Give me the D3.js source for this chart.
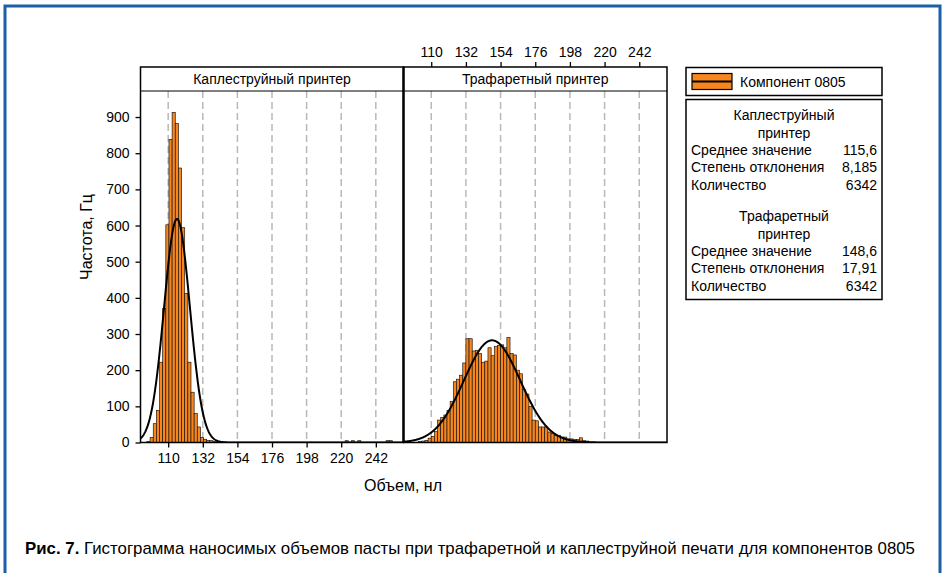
<!DOCTYPE html>
<html><head><meta charset="utf-8">
<script src="https://cdn.jsdelivr.net/npm/d3@7"></script>
<style>
body{margin:0;background:#fff}
svg{display:block}
text{font-family:"Liberation Sans",Arial,sans-serif;fill:#000}
</style>
</head><body>
<svg id="c" width="944" height="573"></svg>
<script>
// ---------- data ----------
const panels = ["Каплеструйный принтер", "Трафаретный принтер"];
const xTicks = [110, 132, 154, 176, 198, 220, 242];
const yTicks = [0, 100, 200, 300, 400, 500, 600, 700, 800, 900];
const binWidth = 2;
const inkjetBinStarts = [96.5, 98.5, 100.5, 102.5, 104.5, 106.5, 108.5, 110.5, 112.5, 114.5, 116.5, 118.5, 120.5, 122.5, 124.5, 126.5, 128.5, 130.5, 132.5, 134.5, 136.5, 138.5, 140.5, 222.5, 226.5, 230.5, 248.5, 250.5];
const inkjetCounts    = [3, 14, 52, 89, 222, 371, 602, 838, 913, 882, 759, 594, 412, 222, 139, 80, 43, 14, 9, 6, 5, 3, 2, 5, 5, 5, 5, 5];
const stencilBinStarts = [102, 104, 106, 108, 110, 112, 114, 116, 118, 120, 122, 124, 126, 128, 130, 132, 134, 136, 138, 140, 142, 144, 146, 148, 150, 152, 154, 156, 158, 160, 162, 164, 166, 168, 170, 172, 174, 176, 178, 180, 182, 184, 186, 188, 190, 192, 194, 196, 198, 200, 202, 204, 206, 208];
const stencilCounts    = [3, 4, 6, 12, 17, 30, 62, 69, 76, 89, 114, 168, 175, 186, 220, 287, 287, 253, 255, 246, 222, 225, 262, 240, 265, 268, 270, 262, 290, 246, 242, 200, 190, 146, 134, 100, 62, 60, 43, 43, 43, 29, 25, 20, 20, 15, 15, 10, 10, 8, 8, 13, 5, 4];
const means = [115.6, 148.6];
const sds = [8.185, 17.91];
const counts = [6342, 6342];
const meanLabels = ["115,6", "148,6"];
const sdLabels = ["8,185", "17,91"];
const nLabels = ["6342", "6342"];
const statTitles = [["Каплеструйный", "принтер"], ["Трафаретный", "принтер"]];
const statNames = ["Среднее значение", "Степень отклонения", "Количество"];
const legendLabel = "Компонент 0805";
const xLabel = "Объем, нл";
const yLabel = "Частота, Гц";
const captionBold = "Рис. 7.";
const captionText = " Гистограмма наносимых объемов пасты при трафаретной и каплеструйной печати для компонентов 0805";

// ---------- layout ----------
const svg = d3.select("#c");
const ORANGE = "#f7861f";
const stripTop = 67, plotTop = 91, plotBottom = 442.5;
const panelX = [[140.5, 403.5], [403.5, 667]];
const xDomain = [92.4, 259.6];
const y = d3.scaleLinear().domain([0, 972]).range([plotBottom, plotTop]);

// outer blue frame
svg.append("path").attr("d", "M5,573 L5,6 L940,6 L940,573")
  .attr("fill", "none").attr("stroke", "#1d5ea8").attr("stroke-width", 3);

const binsData = [
  inkjetBinStarts.map((s, i) => ({x0: s, x1: s + binWidth, n: inkjetCounts[i]})),
  stencilBinStarts.map((s, i) => ({x0: s, x1: s + binWidth, n: stencilCounts[i]}))
];

const defs = svg.append("defs");

panels.forEach((name, p) => {
  const [x0, x1] = panelX[p];
  const x = d3.scaleLinear().domain(xDomain).range([x0, x1]);
  const g = svg.append("g");

  defs.append("clipPath").attr("id", "clip" + p)
    .append("rect").attr("x", x0).attr("y", plotTop).attr("width", x1 - x0).attr("height", plotBottom - plotTop);

  // dashed gridlines
  g.selectAll(".grid").data(xTicks).join("line")
    .attr("x1", d => x(d)).attr("x2", d => x(d))
    .attr("y1", plotTop).attr("y2", plotBottom)
    .attr("stroke", "#b9b9b9").attr("stroke-width", 1.5).attr("stroke-dasharray", "7,4");

  // bars
  g.append("g").selectAll("rect").data(binsData[p]).join("rect")
    .attr("x", d => x(d.x0)).attr("width", d => x(d.x1) - x(d.x0))
    .attr("y", d => y(d.n)).attr("height", d => y(0) - y(d.n))
    .attr("fill", ORANGE).attr("stroke", "#111").attr("stroke-width", 0.65);

  // fitted normal curve
  const m = means[p], s = sds[p], N = counts[p];
  const pts = d3.range(xDomain[0], xDomain[1], 0.25).map(v =>
    [v, N * binWidth / (s * Math.sqrt(2 * Math.PI)) * Math.exp(-0.5 * ((v - m) / s) ** 2)]);
  g.append("path").attr("clip-path", `url(#clip${p})`)
    .attr("d", d3.line().x(d => x(d[0])).y(d => y(d[1]))(pts))
    .attr("fill", "none").attr("stroke", "#000").attr("stroke-width", 2);

  // panel frame and strip
  g.append("rect").attr("x", x0).attr("y", stripTop).attr("width", x1 - x0).attr("height", plotBottom - stripTop)
    .attr("fill", "none").attr("stroke", "#000").attr("stroke-width", 1.5);
  g.append("line").attr("x1", x0).attr("x2", x1).attr("y1", plotTop).attr("y2", plotTop)
    .attr("stroke", "#000").attr("stroke-width", 1.2);
  g.append("text").attr("x", (x0 + x1) / 2).attr("y", 84).attr("text-anchor", "middle")
    .style("font-size", "14px").text(name);

  // axes: bottom for left panel, top for right panel
  if (p === 0) {
    const ax = svg.append("g").attr("transform", `translate(0,${plotBottom})`)
      .call(d3.axisBottom(x).tickValues(xTicks).tickSize(5).tickPadding(6));
    ax.select(".domain").remove();
    ax.selectAll("line").attr("stroke", "#000").attr("stroke-width", 1.3);
    ax.selectAll("text").style("font-size", "14px").style("font-family", "Liberation Sans, Arial, sans-serif");
    const ay = svg.append("g").attr("transform", `translate(${x0},0)`)
      .call(d3.axisLeft(y).tickValues(yTicks).tickSize(5).tickPadding(6));
    ay.select(".domain").remove();
    ay.selectAll("line").attr("stroke", "#000").attr("stroke-width", 1.3);
    ay.selectAll("text").style("font-size", "14px").style("font-family", "Liberation Sans, Arial, sans-serif");
  } else {
    const ax = svg.append("g").attr("transform", `translate(0,${stripTop})`)
      .call(d3.axisTop(x).tickValues(xTicks).tickSize(5).tickPadding(5));
    ax.select(".domain").remove();
    ax.selectAll("line").attr("stroke", "#000").attr("stroke-width", 1.3);
    ax.selectAll("text").style("font-size", "14px").style("font-family", "Liberation Sans, Arial, sans-serif");
  }
});
// thicker divider between panels
svg.append("line").attr("x1", 403.5).attr("x2", 403.5).attr("y1", stripTop).attr("y2", plotBottom)
  .attr("stroke", "#000").attr("stroke-width", 2.2);

// axis titles
svg.append("text").attr("x", 403).attr("y", 491).attr("text-anchor", "middle")
  .style("font-size", "16px").text(xLabel);
svg.append("text").attr("transform", "translate(92,237) rotate(-90)").attr("text-anchor", "middle")
  .style("font-size", "16px").text(yLabel);

// legend
const lg = svg.append("g");
lg.append("rect").attr("x", 686).attr("y", 67.5).attr("width", 196).attr("height", 28)
  .attr("fill", "#fff").attr("stroke", "#000").attr("stroke-width", 1.5);
lg.append("rect").attr("x", 692).attr("y", 73.5).attr("width", 40).attr("height", 16)
  .attr("fill", ORANGE).attr("stroke", "#000").attr("stroke-width", 1.2);
lg.append("line").attr("x1", 692).attr("x2", 732).attr("y1", 81.5).attr("y2", 81.5)
  .attr("stroke", "#000").attr("stroke-width", 2);
lg.append("text").attr("x", 740).attr("y", 86.5).style("font-size", "14px").text(legendLabel);

// statistics box
const sb = svg.append("g");
sb.append("rect").attr("x", 686).attr("y", 99.5).attr("width", 196).attr("height", 200)
  .attr("fill", "#fff").attr("stroke", "#000").attr("stroke-width", 1.5);
const blockTop = [115, 216];
const rowH = 17.6;
[0, 1].forEach(p => {
  const t0 = blockTop[p];
  statTitles[p].forEach((t, i) => {
    sb.append("text").attr("x", 784).attr("y", t0 + i * rowH + 5).attr("text-anchor", "middle")
      .style("font-size", "14px").text(t);
  });
  const vals = [meanLabels[p], sdLabels[p], nLabels[p]];
  statNames.forEach((nm, i) => {
    const yy = t0 + (i + 2) * rowH + 5 - 0.5;
    sb.append("text").attr("x", 691).attr("y", yy).style("font-size", "14px").text(nm);
    sb.append("text").attr("x", 877).attr("y", yy).attr("text-anchor", "end").style("font-size", "14px").text(vals[i]);
  });
});

// caption
const cap = svg.append("text").attr("x", 25).attr("y", 554)
  .attr("textLength", 890).attr("lengthAdjust", "spacingAndGlyphs")
  .style("font-size", "17px");
cap.append("tspan").style("font-weight", "bold").text(captionBold);
cap.append("tspan").text(captionText);
</script>
</body></html>
